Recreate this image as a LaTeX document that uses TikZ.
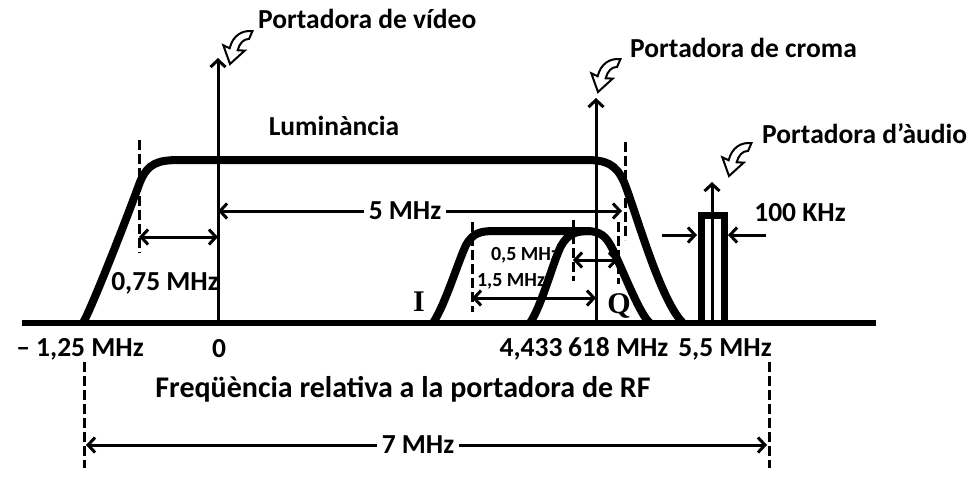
\documentclass[tikz,border=0pt]{standalone}
\usepackage{fontspec}
\setmainfont{Carlito}
\newfontfamily\serifbold{Liberation Serif}
\usetikzlibrary{arrows.meta}
\begin{document}
\begin{tikzpicture}[x=1pt,y=-1pt,
  band/.style={line width=8pt},
  axisline/.style={line width=6pt},
  barb/.tip={Straight Barb[length=7pt,width=15pt]},
  carrier/.style={line width=3pt,-barb},
  dimboth/.style={line width=3pt,barb-barb},
  dimto/.style={line width=3pt,-barb},
  dashline/.style={line width=3pt,dash pattern=on 10pt off 4pt},
  lbl/.style={font=\bfseries\fontsize{27.5}{27.5}\selectfont,inner sep=0pt},
  gaplbl/.style={font=\bfseries\fontsize{27.5}{27.5}\selectfont,inner sep=5pt},
  smalllbl/.style={font=\bfseries\fontsize{20}{20}\selectfont,inner sep=0pt},
  letter/.style={font=\serifbold\bfseries\fontsize{30}{30}\selectfont,inner sep=0pt},
  curly/.pic={\draw[line width=2pt,fill=white,line join=miter]
     (0,0) -- (-8,-12) -- (-3,-11) .. controls (-3,-20) and (2,-26) .. (10,-27)
     -- (9,-21) .. controls (5,-20) and (3,-16) .. (3,-11) -- (8,-12) -- cycle;}
]
\useasboundingbox (0,0) rectangle (976,480);

% axis
\coordinate (axL) at (22,323);
\coordinate (axR) at (876,323);

% luminance band
\draw[band] (83,323) .. controls (93,305) and (128,215) .. (140,182)
  .. controls (148,163) and (158,160) .. (180,160) -- (586,160)
  .. controls (606,160) and (616,164) .. (624,182)
  .. controls (636,212) and (660,300) .. (683,323);

% chroma I band
\draw[band] (433,323) .. controls (445,305) and (458,262) .. (466,245)
  .. controls (473,233) and (480,231) .. (495,231) -- (586,231)
  .. controls (600,231) and (606,236) .. (612,248)
  .. controls (625,275) and (640,315) .. (650,323);
% chroma Q band
\draw[band] (530,323) .. controls (542,305) and (553,262) .. (561,246)
  .. controls (568,234) and (575,231) .. (590,231);

% audio carrier box
\draw[line width=7pt,line join=miter] (701,323) -- (701,215) -- (724,215) -- (724,323);

\draw[axisline] (axL) -- (axR);

% carriers
\coordinate (v0) at (218,323); \coordinate (vT) at (218,58);
\coordinate (c0) at (596,323); \coordinate (cT) at (596,98);
\coordinate (a0) at (712,323); \coordinate (aT) at (712,182);
\draw[carrier] (v0) -- (vT);
\draw[carrier] (c0) -- (cT);
\draw[carrier] (a0) -- (aT);

% dashed guides
\coordinate (d1a) at (139,140); \coordinate (d1b) at (139,253);
\coordinate (d2a) at (625,142); \coordinate (d2b) at (625,240);
\coordinate (d3a) at (472,222); \coordinate (d3b) at (472,312);
\coordinate (d4a) at (573,220); \coordinate (d4b) at (573,281);
\coordinate (d5a) at (618,222); \coordinate (d5b) at (618,284);
\coordinate (d6a) at (84,362);  \coordinate (d6b) at (84,468);
\coordinate (d7a) at (769,362); \coordinate (d7b) at (769,468);
\foreach \n in {1,...,7} {\draw[dashline] (d\n a) -- (d\n b);}

% labels
\node[lbl,anchor=west] (tvid) at (258,19) {Portadora de vídeo};
\node[lbl,anchor=west] (tcro) at (630,48) {Portadora de croma};
\node[lbl,anchor=west] (taud) at (762,134) {Portadora d’àudio};
\node[lbl] (tlum) at (334,126) {Luminància};
\node[lbl] (t075) at (165,283) {0,75 MHz};
\node[lbl] (t100) at (800,213) {100 KHz};
\node[smalllbl] (t05) at (525,255) {0,5 MHz};
\node[smalllbl] (t15) at (511,281) {1,5 MHz};
\node[letter] (tI) at (419,302) {I};
\node[letter] (tQ) at (619,306) {Q};

\node[lbl] (bm125) at (80,349) {– 1,25 MHz};
\node[lbl] (b0) at (219,349) {0};
\node[lbl] (b443) at (584,349) {4,433\hspace{0.2em}618 MHz};
\node[lbl] (b55) at (725,349) {5,5 MHz};
\node[font=\bfseries\fontsize{30}{30}\selectfont,inner sep=0pt] (tfreq) at (403,389) {Freqüència relativa a la portadora de RF};

% curly pointer icons
\pic[scale=1.38,rotate=-14] (iv) at (230,64) {curly};
\pic[scale=1.38,rotate=-14] (ic) at (598,92) {curly};
\pic[scale=1.38,rotate=-14] (ia) at (729,176) {curly};

% dimension arrows
\coordinate (e075L) at (139,237); \coordinate (e075R) at (218,237);
\draw[dimboth] (e075L) -- (e075R);

\node[gaplbl] (t5) at (405,211) {5 MHz};
\coordinate (e5L) at (218,211); \coordinate (e5R) at (622,211);
\draw[dimto] (t5.west) -- (e5L);
\draw[dimto] (t5.east) -- (e5R);

\coordinate (e05L) at (573,260); \coordinate (e05R) at (618,260);
\draw[dimboth] (e05L) -- (e05R);
\coordinate (e15L) at (472,298); \coordinate (e15R) at (596,298);
\draw[dimboth] (e15L) -- (e15R);

\coordinate (e100L) at (662,235); \coordinate (e100R) at (766,235);
\coordinate (boxL) at (697,235); \coordinate (boxR) at (728,235);
\draw[dimto] (e100L) -- (boxL);
\draw[dimto] (e100R) -- (boxR);

\node[gaplbl] (t7) at (418,445) {7 MHz};
\coordinate (e7L) at (86,445); \coordinate (e7R) at (767,445);
\draw[dimto] (t7.west) -- (e7L);
\draw[dimto] (t7.east) -- (e7R);
\end{tikzpicture}
\end{document}
